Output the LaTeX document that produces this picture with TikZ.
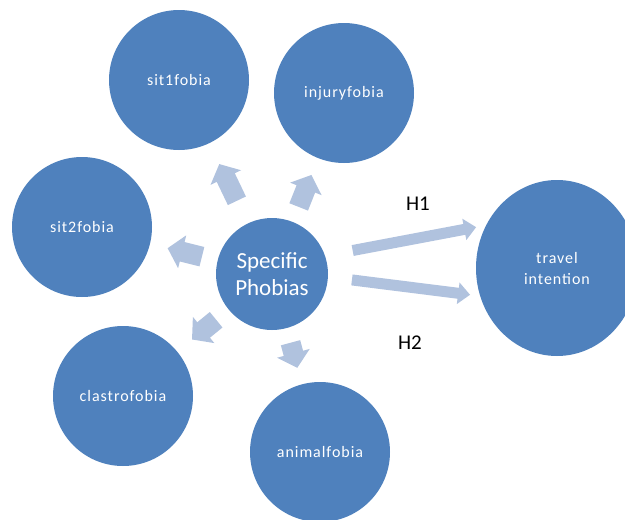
\documentclass[tikz,border=0pt]{standalone}
\usepackage{fontspec}
\setmainfont{Carlito}
\newfontfamily\widefont[LetterSpace=6]{Carlito}
\usetikzlibrary{arrows.meta,shapes.geometric}
\definecolor{phobiablue}{RGB}{79,129,189}
\definecolor{arrowblue}{RGB}{176,194,222}
\begin{document}
\begin{tikzpicture}[x=1pt,y=-1pt,
    fobia/.style={circle,fill=phobiablue,text=white,inner sep=0pt,minimum size=140pt,
        font=\widefont\fontsize{16}{21}\selectfont,align=center},
    fatarrow/.style={draw=arrowblue,line width=20pt,-{Triangle[width=33pt,length=15pt]}},
    hyparrow/.style={draw=arrowblue,line width=11pt,-{Triangle[width=21pt,length=12pt]}},
    hyplabel/.style={font=\fontsize{21}{24}\selectfont,text=black}]
    % frame
    \useasboundingbox (0,0) rectangle (625,520);
    \clip (0,0) rectangle (625,520);
    % centre
    \node[fobia,minimum size=112pt,font=\fontsize{23}{27}\selectfont] (sp) at (272,274) {Specific\\Phobias};
    % phobia circles
    \node[fobia] (sit1) at (179,80) {sit1fobia};
    \node[fobia] (injury) at (344,93) {injuryfobia};
    \node[fobia] (sit2) at (82,227) {sit2fobia};
    \node[fobia] (clastro) at (123,396) {clastrofobia};
    \node[fobia] (animal) at (320,452) {animalfobia};
    % outcome
    \node[fobia,ellipse,minimum size=0pt,minimum width=162pt,minimum height=176pt] (travel) at (557,268) {travel\\intention};
    % fat arrows
    \draw[fatarrow,shorten <=25pt,shorten >=23pt] (sp) -- (sit1);
    \draw[fatarrow,shorten <=16pt,shorten >=18pt] (sp) -- (injury);
    \draw[fatarrow,shorten <=16pt,shorten >=18pt] (sp) -- (sit2);
    \draw[fatarrow,shorten <=16pt,shorten >=19pt] (sp) -- (clastro);
    \draw[fatarrow,shorten <=15pt,shorten >=17pt] (sp) -- (animal);
    % hypotheses
    \draw[hyparrow,shorten <=28pt,shorten >=10pt] (sp.19) -- (travel.149);
    \draw[hyparrow,shorten <=24pt,shorten >=10pt] (sp.-3) -- (travel.200);
    \node[hyplabel] (h1) at (418,204) {H1};
    \node[hyplabel] (h2) at (410,343) {H2};
\end{tikzpicture}
\end{document}
